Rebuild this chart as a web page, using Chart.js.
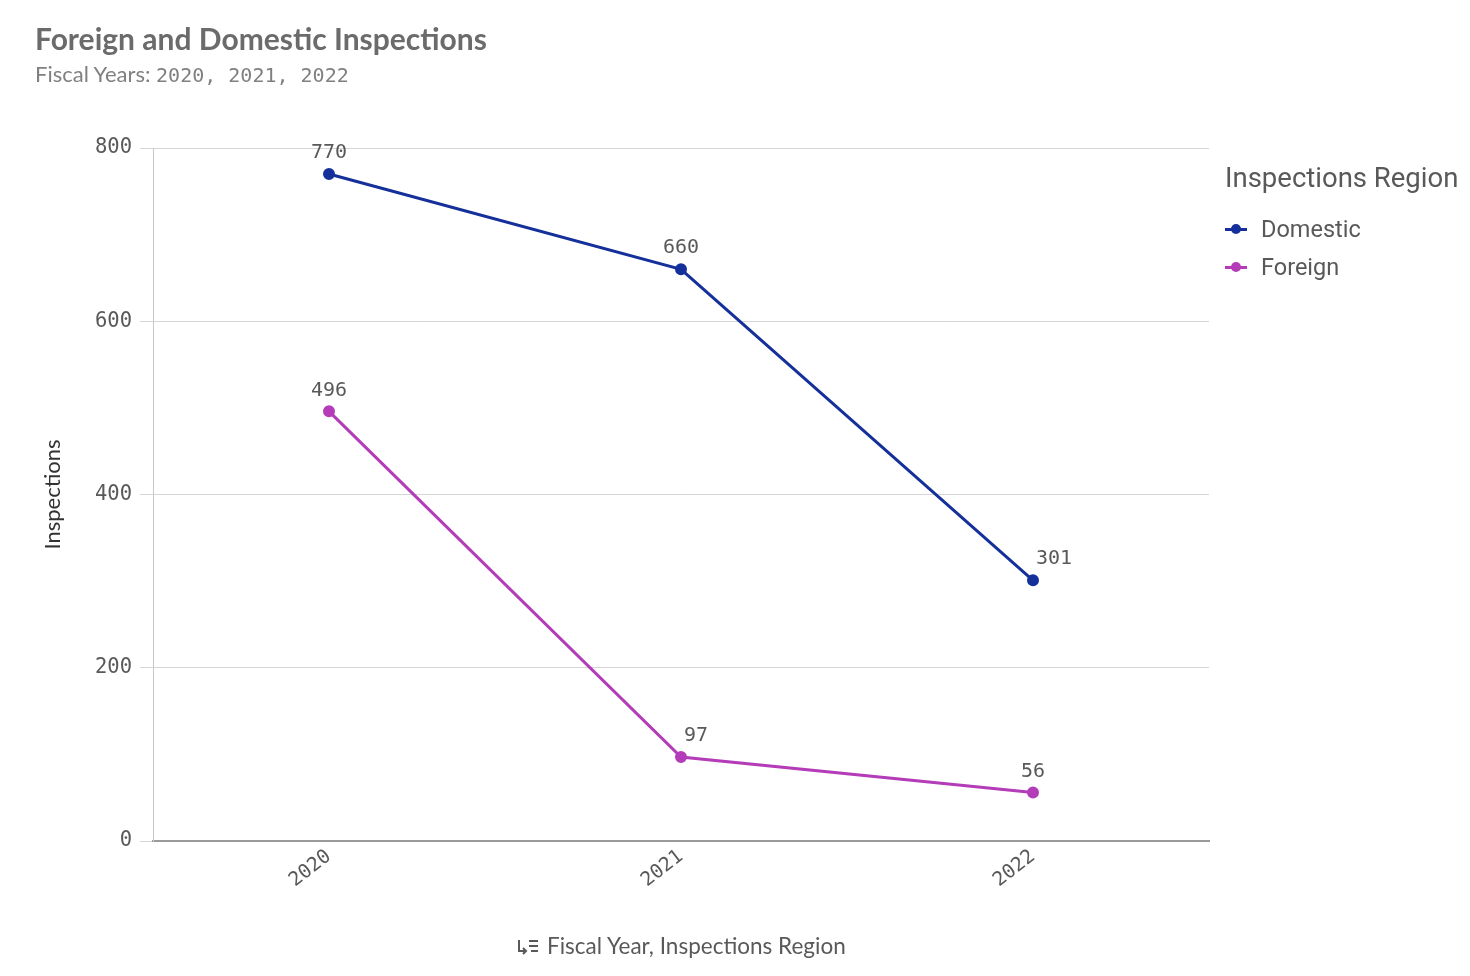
<!DOCTYPE html>
<html>
<head>
<meta charset="utf-8">
<script src="https://cdn.jsdelivr.net/npm/chart.js@4.4.1/dist/chart.umd.min.js"></script>
<style>
  html, body { margin: 0; padding: 0; background: #fff; }
  #wrap { position: relative; width: 1470px; height: 976px; overflow: hidden; }
  #myChart { position: absolute; left: 0; top: 0; }
  .title { position: absolute; left: 35px; top: 20px; font: bold 30px Lato, sans-serif; color: #6b6b6b; }
  .subtitle { position: absolute; left: 35px; top: 60px; font: 22px Lato, sans-serif; color: #808080; }
  .mono { font-family: "DejaVu Sans Mono", monospace; font-size: 20px; }
  .legend { position: absolute; left: 1225px; top: 161px; font-family: Roboto, sans-serif; color: #595959; }
  .legend .lt { font-size: 27.5px; margin-bottom: 16px; }
  .legend .item { font-size: 23.5px; height: 38px; display: flex; align-items: center; }
  .legend .mk { position: relative; width: 22px; height: 12px; margin-right: 14px; }
  .legend .mk i { position: absolute; left: 0; top: 5px; width: 22px; height: 3px; }
  .legend .mk b { position: absolute; left: 6px; top: 1px; width: 10px; height: 10px; border-radius: 50%; }
  .footer { position: absolute; left: 517px; top: 932px; font: 22.5px Lato, sans-serif; color: #595959; display: flex; align-items: center; }
  .footer svg { margin-right: 8px; }
</style>
</head>
<body>
<div id="wrap">
  <canvas id="myChart" width="1470" height="976"></canvas>
  <div class="title">Foreign and Domestic Inspections</div>
  <div class="subtitle">Fiscal Years: <span class="mono">2020, 2021, 2022</span></div>
  <div class="legend" id="legend"><div class="lt">Inspections Region</div></div>
  <div class="footer">
    <svg width="22" height="18" viewBox="0 0 22 18"><path d="M2 3 V14 H9 M6 11 L9 14 L6 17" stroke="#595959" stroke-width="2" fill="none"/><path d="M12 4 H21 M12 9 H21 M14 14 H21" stroke="#595959" stroke-width="2"/></svg>
    <span>Fiscal Year, Inspections Region</span>
  </div>
</div>
<script>
// Dados do gráfico
const years = ['2020', '2021', '2022'];
const seriesNames = ['Domestic', 'Foreign'];
const domestic = [770, 660, 301];
const foreign = [496, 97, 56];
const yTicks = [0, 200, 400, 600, 800];
const colors = ['#15309a', '#b43cb8'];

// deslocamentos dos rótulos (estilo apenas)
const labelShift = [[0, 0, 21], [0, 15, 0]];

const valueLabels = {
    id: 'valueLabels',
    afterDatasetsDraw(chart) {
        const c = chart.ctx;
        c.save();
        c.font = '20px "DejaVu Sans Mono", monospace';
        c.fillStyle = '#595959';
        c.textAlign = 'center';
        c.textBaseline = 'middle';
        chart.data.datasets.forEach((ds, i) => {
            chart.getDatasetMeta(i).data.forEach((pt, j) => {
                c.fillText(ds.data[j], pt.x + labelShift[i][j], pt.y - 21);
            });
        });
        c.restore();
    }
};

const ctx = document.getElementById('myChart').getContext('2d');
const myChart = new Chart(ctx, {
    type: 'line',
    data: {
        labels: years,
        datasets: [domestic, foreign].map((d, i) => ({
            label: seriesNames[i],
            data: d,
            borderColor: colors[i],
            backgroundColor: colors[i],
            borderWidth: 3,
            pointRadius: 4.5,
            tension: 0
        }))
    },
    options: {
        responsive: false,
        animation: false,
        layout: { padding: { left: 1, top: 148, right: 261, bottom: 0 } },
        scales: {
            x: {
                offset: true,
                grid: { display: false },
                border: { display: true, color: '#9a9a9a', width: 2 },
                ticks: {
                    minRotation: 38, maxRotation: 38, padding: -4,
                    color: '#595959',
                    font: { family: '"DejaVu Sans Mono", monospace', size: 19.5 }
                },
                afterFit(scale) { scale.height = 135; }
            },
            y: {
                min: 0, max: 800,
                afterBuildTicks(scale) { scale.ticks = yTicks.map(v => ({ value: v })); },
                grid: { color: '#d6d6d6', lineWidth: 1, tickLength: 13 },
                border: { display: true, color: '#c8c8c8' },
                ticks: {
                    padding: 8, color: '#595959',
                    font: { family: '"DejaVu Sans Mono", monospace', size: 20.5 }
                },
                title: {
                    display: true, text: 'Inspections', color: '#333',
                    font: { family: 'Lato, sans-serif', size: 22 },
                    padding: { top: 39, bottom: 0 }
                },
                afterFit(scale) { scale.width = 152; }
            }
        },
        plugins: {
            legend: { display: false },
            tooltip: { enabled: false }
        }
    },
    plugins: [valueLabels]
});

// legenda HTML a partir dos mesmos arrays
const lg = document.getElementById('legend');
seriesNames.forEach((n, i) => {
    const d = document.createElement('div');
    d.className = 'item';
    d.innerHTML = '<span class="mk"><i style="background:' + colors[i] + '"></i><b style="background:' + colors[i] + '"></b></span>' + n;
    lg.appendChild(d);
});
</script>
</body>
</html>
